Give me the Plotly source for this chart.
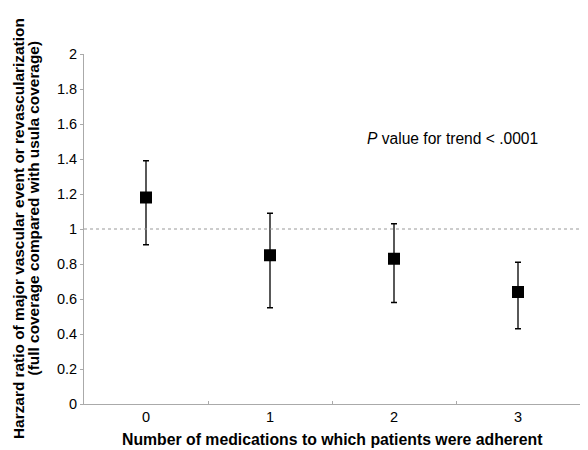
import plotly.graph_objects as go

categories = ["0", "1", "2", "3"]
hazard_ratio = [1.18, 0.85, 0.83, 0.64]
ci_upper = [1.39, 1.09, 1.03, 0.81]
ci_lower = [0.91, 0.55, 0.58, 0.43]
y_ticks = [0, 0.2, 0.4, 0.6, 0.8, 1, 1.2, 1.4, 1.6, 1.8, 2]
y_tick_labels = ["0", "0.2", "0.4", "0.6", "0.8", "1", "1.2", "1.4", "1.6", "1.8", "2"]
reference_value = 1
p_text = "<i>P</i> value for trend &lt; .0001"
x_title = "Number of medications to which patients were adherent"
y_title_1 = "Harzard ratio of major vascular event or revascularization"
y_title_2 = "(full coverage compared with usula coverage)"

err_plus = [u - h for u, h in zip(ci_upper, hazard_ratio)]
err_minus = [h - l for h, l in zip(hazard_ratio, ci_lower)]

FONT = "Liberation Sans, Arial, sans-serif"

fig = go.Figure()
fig.add_trace(go.Scatter(
    x=categories, y=hazard_ratio, mode="markers",
    marker=dict(symbol="square", size=12, color="black"),
    error_y=dict(type="data", symmetric=False, array=err_plus, arrayminus=err_minus,
                 color="black", thickness=1.3, width=3),
    showlegend=False, cliponaxis=False,
))

fig.add_shape(type="line", xref="paper", yref="y", x0=0, x1=1.017,
              y0=reference_value, y1=reference_value,
              line=dict(color="#999999", width=1.2, dash="dot"))

fig.add_annotation(x=2.47, y=1.52, xref="x", yref="y", text=p_text, showarrow=False,
                   xanchor="center", yanchor="middle",
                   font=dict(family=FONT, size=15.6, color="black"))

fig.add_annotation(x=-0.133, y=0.5, xref="paper", yref="paper", textangle=-90,
                   xanchor="center", yanchor="middle",
                   text="<b>" + y_title_1 + "</b>",
                   showarrow=False, font=dict(family=FONT, size=15.4, color="black"))
fig.add_annotation(x=-0.1, y=0.56, xref="paper", yref="paper", textangle=-90,
                   xanchor="center", yanchor="middle",
                   text="<b>" + y_title_2 + "</b>",
                   showarrow=False, font=dict(family=FONT, size=15.4, color="black"))
fig.add_annotation(x=0.5, y=-0.1, xref="paper", yref="paper",
                   text="<b>" + x_title + "</b>", xanchor="center", yanchor="middle",
                   showarrow=False, font=dict(family=FONT, size=15.8, color="black"))

fig.update_layout(
    width=580, height=442,
    margin=dict(l=76, r=8, t=46, b=46),
    plot_bgcolor="white", paper_bgcolor="white",
    font=dict(family=FONT, size=14.5, color="black"),
    xaxis=dict(type="category", range=[-0.5, 3.5], showline=True, linecolor="#aaaaaa",
               linewidth=1, tickson="boundaries", ticks="inside", ticklen=3,
               tickcolor="#aaaaaa", showgrid=False, zeroline=False,
               tickfont=dict(size=14.5)),
    yaxis=dict(range=[0, 2], tickvals=y_ticks, ticktext=y_tick_labels, showline=True,
               linecolor="#aaaaaa", linewidth=1, ticks="outside", ticklen=3,
               tickcolor="#aaaaaa", showgrid=False, zeroline=False,
               tickfont=dict(size=14.5)),
)

fig.write_html("out.html")
